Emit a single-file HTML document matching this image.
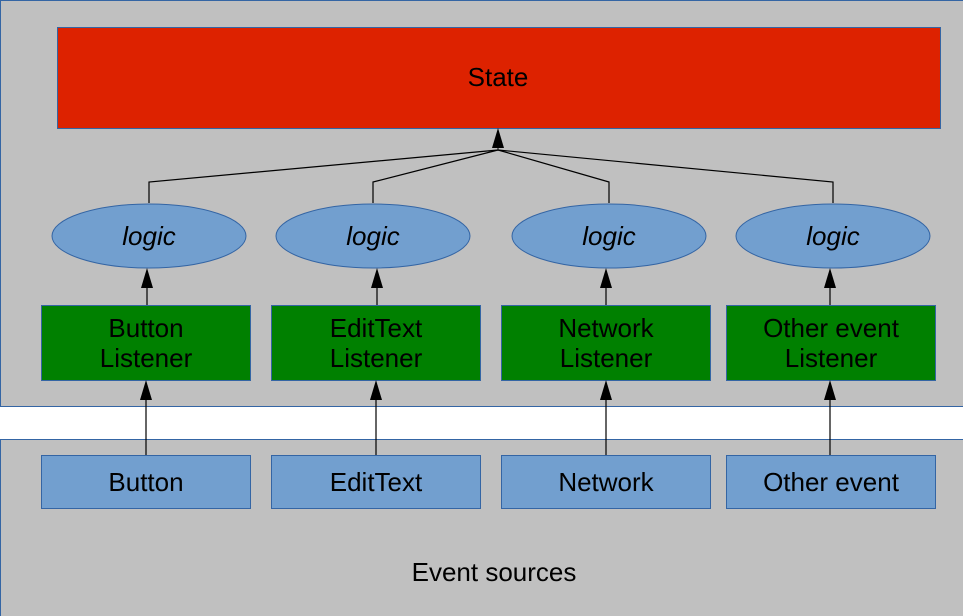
<!DOCTYPE html>
<html><head><meta charset="utf-8"><style>
html,body{margin:0;padding:0;background:#fff;width:963px;height:616px;overflow:hidden}
svg text{font-family:"Liberation Sans",sans-serif;font-size:26px;fill:#000}
</style></head><body>
<svg width="963" height="616" viewBox="0 0 963 616" xmlns="http://www.w3.org/2000/svg">
<rect x="0.5" y="0.5" width="963" height="406" fill="#c0c0c0" stroke="#3465a4"/>
<rect x="0.5" y="439.5" width="963" height="180" fill="#c0c0c0" stroke="#3465a4"/>
<rect x="57.5" y="27.5" width="883" height="101" fill="#dd2200" stroke="#3465a4"/>
<text x="498" y="86" text-anchor="middle">State</text>
<g fill="none" stroke="#000" stroke-width="1.2">
<polyline points="149,203 149,182 498,150"/>
<polyline points="373,203 373,182 498,150"/>
<polyline points="609,203 609,182 498,150"/>
<polyline points="833,203 833,182 498,150"/>
</g>
<path d="M492,148 L498,128 L504,148 Z" fill="#000"/>
<line x1="498" y1="148" x2="498" y2="150" stroke="#000"/>
<g fill="#729fcf" stroke="#3465a4">
<ellipse cx="149" cy="236" rx="97" ry="32"/>
<ellipse cx="373" cy="236" rx="97" ry="32"/>
<ellipse cx="609" cy="236" rx="97" ry="32"/>
<ellipse cx="833" cy="236" rx="97" ry="32"/>
</g>
<g text-anchor="middle">
<text x="149" y="245" font-style="italic">logic</text>
<text x="373" y="245" font-style="italic">logic</text>
<text x="609" y="245" font-style="italic">logic</text>
<text x="833" y="245" font-style="italic">logic</text>
</g>
<g fill="#008000" stroke="#3465a4">
<rect x="41.5" y="305.5" width="209" height="75"/>
<rect x="271.5" y="305.5" width="209" height="75"/>
<rect x="501.5" y="305.5" width="209" height="75"/>
<rect x="726.5" y="305.5" width="209" height="75"/>
</g>
<g text-anchor="middle">
<text x="146" y="337">Button</text><text x="146" y="367">Listener</text>
<text x="376" y="337">EditText</text><text x="376" y="367">Listener</text>
<text x="606" y="337">Network</text><text x="606" y="367">Listener</text>
<text x="831" y="337">Other event</text><text x="831" y="367">Listener</text>
</g>
<g fill="#729fcf" stroke="#3465a4">
<rect x="41.5" y="455.5" width="209" height="53"/>
<rect x="271.5" y="455.5" width="209" height="53"/>
<rect x="501.5" y="455.5" width="209" height="53"/>
<rect x="726.5" y="455.5" width="209" height="53"/>
</g>
<g text-anchor="middle">
<text x="146" y="491">Button</text>
<text x="376" y="491">EditText</text>
<text x="606" y="491">Network</text>
<text x="831" y="491">Other event</text>
<text x="494" y="581">Event sources</text>
</g>
<g stroke="#000" stroke-width="1.2">
<line x1="147" y1="305" x2="147" y2="286"/><line x1="377" y1="305" x2="377" y2="286"/>
<line x1="606" y1="305" x2="606" y2="286"/><line x1="830" y1="305" x2="830" y2="286"/>
<line x1="146" y1="455" x2="146" y2="398"/><line x1="376" y1="455" x2="376" y2="398"/>
<line x1="606" y1="455" x2="606" y2="398"/><line x1="830" y1="455" x2="830" y2="398"/>
</g>
<g fill="#000">
<path d="M141,288 L147,268 L153,288 Z"/><path d="M371,288 L377,268 L383,288 Z"/>
<path d="M600,288 L606,268 L612,288 Z"/><path d="M824,288 L830,268 L836,288 Z"/>
<path d="M140,400 L146,380 L152,400 Z"/><path d="M370,400 L376,380 L382,400 Z"/>
<path d="M600,400 L606,380 L612,400 Z"/><path d="M824,400 L830,380 L836,400 Z"/>
</g>
</svg>
</body></html>
